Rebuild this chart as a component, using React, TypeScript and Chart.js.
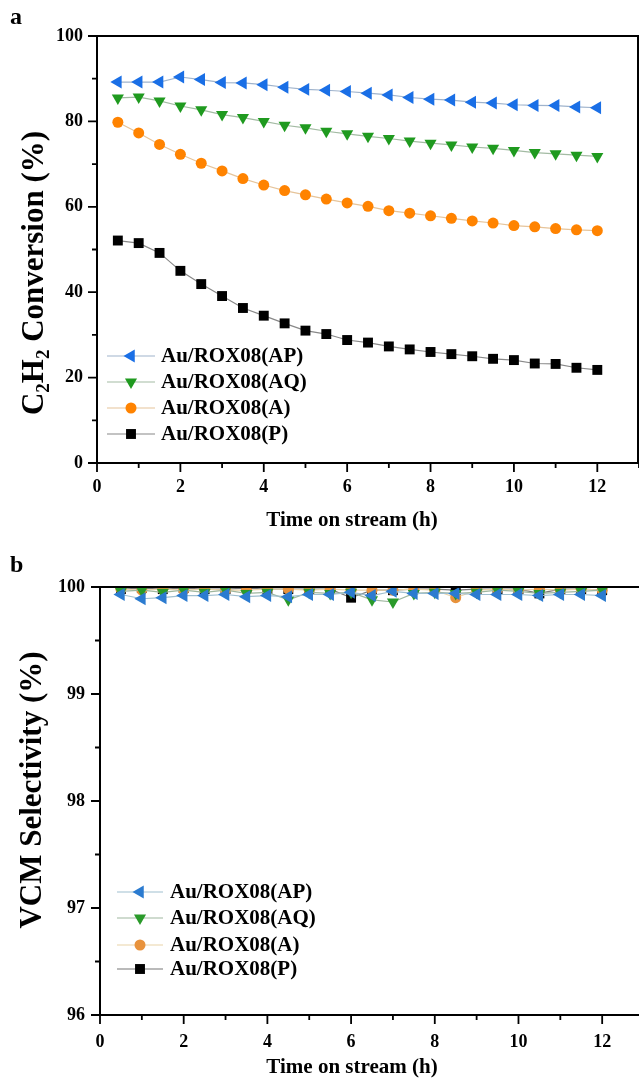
import React, { useEffect, useRef } from 'react';
import { Chart, registerables } from 'chart.js';

Chart.register(...registerables);

const FONT = "'Liberation Serif', 'Times New Roman', serif";

// ---- data ----
const hours = [0.5, 1, 1.5, 2, 2.5, 3, 3.5, 4, 4.5, 5, 5.5, 6, 6.5, 7, 7.5, 8, 8.5, 9, 9.5, 10, 10.5, 11, 11.5, 12];

const seriesLabels = ['Au/ROX08(AP)', 'Au/ROX08(AQ)', 'Au/ROX08(A)', 'Au/ROX08(P)'];

const convAP = [89.2, 89.2, 89.2, 90.4, 89.8, 89.1, 89.0, 88.6, 88.0, 87.5, 87.3, 87.0, 86.6, 86.2, 85.6, 85.2, 85.0, 84.5, 84.3, 83.9, 83.75, 83.7, 83.4, 83.2];
const convAQ = [85.5, 85.7, 84.8, 83.6, 82.7, 81.6, 80.9, 80.0, 79.1, 78.5, 77.7, 77.1, 76.5, 76.0, 75.4, 74.9, 74.5, 74.0, 73.7, 73.2, 72.7, 72.4, 72.1, 71.8];
const convA = [79.8, 77.3, 74.6, 72.3, 70.2, 68.4, 66.6, 65.1, 63.8, 62.8, 61.8, 60.9, 60.1, 59.1, 58.5, 57.9, 57.3, 56.7, 56.2, 55.6, 55.3, 54.9, 54.6, 54.4];
const convP = [52.1, 51.5, 49.2, 45.0, 41.9, 39.1, 36.3, 34.5, 32.7, 31.0, 30.2, 28.8, 28.2, 27.3, 26.6, 26.0, 25.5, 25.0, 24.4, 24.1, 23.3, 23.2, 22.3, 21.8];

const selAP = [99.93, 99.89, 99.9, 99.92, 99.92, 99.93, 99.91, 99.92, 99.91, 99.93, 99.93, 99.95, 99.92, 99.96, 99.94, 99.94, 99.94, 99.93, 99.93, 99.93, 99.92, 99.93, 99.93, 99.92];
const selAQ = [99.96, 99.97, 99.95, 99.97, 99.95, 99.97, 99.94, 99.95, 99.88, 99.95, 99.94, 99.95, 99.88, 99.86, 99.94, 99.95, 99.94, 99.95, 99.97, 99.96, 99.94, 99.95, 99.96, 99.97];
const selA = [99.98, 99.97, 99.98, 99.97, 99.98, 99.97, 99.97, 99.98, 99.98, 99.97, 99.98, 99.97, 99.97, 99.97, 99.98, 99.97, 99.9, 99.97, 99.98, 99.97, 99.98, 99.97, 99.98, 99.97];
const selP = [99.98, 99.99, 99.98, 99.99, 99.98, 99.98, 99.99, 99.98, 99.98, 99.98, 99.98, 99.9, 99.97, 99.97, 99.98, 99.98, 99.97, 99.98, 99.98, 99.98, 99.94, 99.98, 99.98, 99.97];

const xTickLabels = ['0', '2', '4', '6', '8', '10', '12'];
const yTickLabelsA = ['0', '20', '40', '60', '80', '100'];
const yTickLabelsB = ['96', '97', '98', '99', '100'];

// ---- styles ----
type Shape = 'triL' | 'triD' | 'circle' | 'rect';
const shapes: Shape[] = ['triL', 'triD', 'circle', 'rect'];
const fillsA = ['#1a6fe6', '#1f9a1f', '#ff8300', '#000000'];
const linesA = ['#9fb3cc', '#a3bba3', '#e6c49a', '#888888'];
const fillsB = ['#2b7bd0', '#2a9a2a', '#e8923c', '#000000'];
const linesB = ['#9fbfcf', '#9fb79f', '#ead3a8', '#777777'];
const radii = [7.5, 7, 5.5, 7];

function pointStyleOf(s: Shape): any {
  if (s === 'triL' || s === 'triD') return 'triangle';
  return s;
}
function rotationOf(s: Shape): number {
  if (s === 'triL') return -90;
  if (s === 'triD') return 180;
  return 0;
}

function drawMarker(ctx: CanvasRenderingContext2D, s: Shape, x: number, y: number, r: number, color: string) {
  ctx.save();
  ctx.fillStyle = color;
  ctx.beginPath();
  if (s === 'circle') {
    ctx.arc(x, y, r, 0, Math.PI * 2);
  } else if (s === 'rect') {
    const h = Math.SQRT1_2 * r;
    ctx.rect(x - h, y - h, 2 * h, 2 * h);
  } else {
    let a = (rotationOf(s) * Math.PI) / 180;
    for (let i = 0; i < 3; i++) {
      const px = x + Math.sin(a) * r;
      const py = y - Math.cos(a) * r;
      if (i === 0) ctx.moveTo(px, py);
      else ctx.lineTo(px, py);
      a += (2 * Math.PI) / 3;
    }
    ctx.closePath();
  }
  ctx.fill();
  ctx.restore();
}

type TitlePart = { t: string; sub?: boolean };

function makePlugin(o: {
  letter: string;
  letterPos: [number, number];
  yTitle: TitlePart[];
  yTitlePos: [number, number];
  xTitle: string;
  xTitlePos: [number, number];
  rightBorder: boolean;
  isMajorX: (v: number) => boolean;
  isMajorY: (v: number) => boolean;
  legend: { x1: number; x2: number; textX: number; rows: number[] };
  fills: string[];
  lines: string[];
}) {
  return {
    id: 'custom' + o.letter,
    afterDraw(chart: any) {
      const ctx: CanvasRenderingContext2D = chart.ctx;
      const { left, right, top, bottom } = chart.chartArea;
      const xs = chart.scales.x;
      const ys = chart.scales.y;
      ctx.save();
      // frame
      ctx.strokeStyle = '#000';
      ctx.lineWidth = 2;
      ctx.beginPath();
      ctx.moveTo(left, top);
      ctx.lineTo(left, bottom);
      ctx.lineTo(right, bottom);
      ctx.moveTo(left, top);
      ctx.lineTo(right, top);
      if (o.rightBorder) {
        ctx.moveTo(right - 1, top);
        ctx.lineTo(right - 1, bottom);
      }
      ctx.stroke();
      // ticks
      ctx.lineWidth = 1.8;
      ctx.beginPath();
      xs.ticks.forEach((t: any) => {
        const px = xs.getPixelForValue(t.value);
        const len = o.isMajorX(t.value) ? 9 : 5;
        ctx.moveTo(px, bottom);
        ctx.lineTo(px, bottom + len);
      });
      ys.ticks.forEach((t: any) => {
        const py = ys.getPixelForValue(t.value);
        const len = o.isMajorY(t.value) ? 9 : 5;
        ctx.moveTo(left, py);
        ctx.lineTo(left - len, py);
      });
      ctx.stroke();

      // panel letter
      ctx.fillStyle = '#000';
      ctx.font = `bold 24px ${FONT}`;
      ctx.textAlign = 'left';
      ctx.textBaseline = 'middle';
      ctx.fillText(o.letter, o.letterPos[0], o.letterPos[1]);

      // x title
      ctx.font = `bold 21px ${FONT}`;
      ctx.textAlign = 'center';
      ctx.textBaseline = 'middle';
      ctx.fillText(o.xTitle, o.xTitlePos[0], o.xTitlePos[1]);

      // y title with subscripts
      ctx.save();
      ctx.translate(o.yTitlePos[0], o.yTitlePos[1]);
      ctx.rotate(-Math.PI / 2);
      ctx.textAlign = 'left';
      ctx.textBaseline = 'middle';
      const mainF = `bold 31px ${FONT}`;
      const subF = `bold 19px ${FONT}`;
      let total = 0;
      o.yTitle.forEach((p) => {
        ctx.font = p.sub ? subF : mainF;
        total += ctx.measureText(p.t).width;
      });
      let cx = -total / 2;
      o.yTitle.forEach((p) => {
        ctx.font = p.sub ? subF : mainF;
        ctx.fillText(p.t, cx, p.sub ? 9 : 0);
        cx += ctx.measureText(p.t).width;
      });
      ctx.restore();

      // legend
      ctx.font = `bold 21px ${FONT}`;
      ctx.textAlign = 'left';
      ctx.textBaseline = 'middle';
      seriesLabels.forEach((lab, i) => {
        const y = o.legend.rows[i];
        ctx.strokeStyle = o.lines[i];
        ctx.lineWidth = 1.2;
        ctx.beginPath();
        ctx.moveTo(o.legend.x1, y);
        ctx.lineTo(o.legend.x2, y);
        ctx.stroke();
        drawMarker(ctx, shapes[i], (o.legend.x1 + o.legend.x2) / 2, y, radii[i], o.fills[i]);
        ctx.fillStyle = '#000';
        ctx.fillText(lab, o.legend.textX, y + 1);
      });
      ctx.restore();
    },
  };
}

function buildDatasets(series: number[][], fills: string[], lines: string[]) {
  return series.map((vals, i) => ({
    label: seriesLabels[i],
    data: hours.map((h, j) => ({ x: h, y: vals[j] })),
    borderColor: lines[i],
    borderWidth: 1.2,
    backgroundColor: fills[i],
    pointBackgroundColor: fills[i],
    pointBorderColor: fills[i],
    pointBorderWidth: 0,
    pointStyle: pointStyleOf(shapes[i]),
    rotation: rotationOf(shapes[i]),
    pointRotation: rotationOf(shapes[i]),
    pointRadius: radii[i],
    pointHoverRadius: radii[i],
    tension: 0,
    fill: false,
  }));
}

const tickFont = { family: FONT, size: 18, weight: 'bold' as const };

function fitX(h: number) {
  return (s: any) => {
    s.height = h;
    s.paddingLeft = 0;
    s.paddingRight = 0;
  };
}
function fitY(w: number) {
  return (s: any) => {
    s.width = w;
    s.paddingTop = 0;
    s.paddingBottom = 0;
  };
}

export default function App() {
  const refA = useRef<HTMLCanvasElement | null>(null);
  const refB = useRef<HTMLCanvasElement | null>(null);

  useEffect(() => {
    const charts: Chart[] = [];
    if (refA.current) {
      charts.push(
        new Chart(refA.current, {
          type: 'line',
          data: { datasets: buildDatasets([convAP, convAQ, convA, convP], fillsA, linesA) as any },
          options: {
            animation: false,
            responsive: false,
            devicePixelRatio: 1,
            layout: { autoPadding: false, padding: { left: 0, right: 0, top: 36, bottom: 0 } },
            plugins: { legend: { display: false }, tooltip: { enabled: false } },
            scales: {
              x: {
                type: 'linear',
                min: 0,
                max: 13,
                afterFit: fitX(82),
                grid: { display: false, drawTicks: false },
                border: { display: false },
                ticks: {
                  stepSize: 1,
                  autoSkip: false,
                  maxRotation: 0,
                  includeBounds: false,
                  padding: 14,
                  color: '#000',
                  font: tickFont,
                  callback: (v: any) => {
                    const s = String(v);
                    return xTickLabels.includes(s) ? s : '';
                  },
                },
              },
              y: {
                type: 'linear',
                min: 0,
                max: 100,
                afterFit: fitY(97),
                grid: { display: false, drawTicks: false },
                border: { display: false },
                ticks: {
                  stepSize: 10,
                  autoSkip: false,
                  padding: 14,
                  color: '#000',
                  font: tickFont,
                  callback: (v: any) => {
                    const s = String(v);
                    return yTickLabelsA.includes(s) ? s : '';
                  },
                },
              },
            },
          },
          plugins: [
            makePlugin({
              letter: 'a',
              letterPos: [10, 18],
              yTitle: [{ t: 'C' }, { t: '2', sub: true }, { t: 'H' }, { t: '2', sub: true }, { t: ' Conversion (%)' }],
              yTitlePos: [35, 273],
              xTitle: 'Time on stream (h)',
              xTitlePos: [352, 521],
              rightBorder: true,
              isMajorX: (v) => v % 2 === 0,
              isMajorY: (v) => v % 20 === 0,
              legend: { x1: 107, x2: 155, textX: 161, rows: [356, 382, 408, 434] },
              fills: fillsA,
              lines: linesA,
            }) as any,
          ],
        })
      );
    }
    if (refB.current) {
      charts.push(
        new Chart(refB.current, {
          type: 'line',
          data: { datasets: buildDatasets([selAP, selAQ, selA, selP], fillsB, linesB) as any },
          options: {
            animation: false,
            responsive: false,
            devicePixelRatio: 1,
            layout: { autoPadding: false, padding: { left: 0, right: 0, top: 42, bottom: 0 } },
            plugins: { legend: { display: false }, tooltip: { enabled: false } },
            scales: {
              x: {
                type: 'linear',
                min: 0,
                max: 12.88,
                afterFit: fitX(68),
                grid: { display: false, drawTicks: false },
                border: { display: false },
                ticks: {
                  stepSize: 1,
                  autoSkip: false,
                  maxRotation: 0,
                  includeBounds: false,
                  padding: 17,
                  color: '#000',
                  font: tickFont,
                  callback: (v: any) => {
                    const s = String(v);
                    return xTickLabels.includes(s) ? s : '';
                  },
                },
              },
              y: {
                type: 'linear',
                min: 96,
                max: 100,
                afterFit: fitY(100),
                grid: { display: false, drawTicks: false },
                border: { display: false },
                ticks: {
                  stepSize: 0.5,
                  autoSkip: false,
                  padding: 15,
                  color: '#000',
                  font: tickFont,
                  callback: (v: any) => {
                    const s = String(v);
                    return yTickLabelsB.includes(s) ? s : '';
                  },
                },
              },
            },
          },
          plugins: [
            makePlugin({
              letter: 'b',
              letterPos: [10, 21],
              yTitle: [{ t: 'VCM Selectivity (%)' }],
              yTitlePos: [33, 245],
              xTitle: 'Time on stream (h)',
              xTitlePos: [352, 523],
              rightBorder: false,
              isMajorX: (v) => v % 2 === 0,
              isMajorY: (v) => Math.abs(v - Math.round(v)) < 1e-6,
              legend: { x1: 117, x2: 163, textX: 170, rows: [347, 373, 400, 424] },
              fills: fillsB,
              lines: linesB,
            }) as any,
          ],
        })
      );
    }
    return () => charts.forEach((c) => c.destroy());
  }, []);

  return (
    <div style={{ position: 'absolute', left: 0, top: 0, width: 639, height: 1083, background: '#fff', overflow: 'hidden' }}>
      <canvas ref={refA} width={639} height={545} style={{ position: 'absolute', left: 0, top: 0, width: 639, height: 545 }} />
      <canvas ref={refB} width={639} height={538} style={{ position: 'absolute', left: 0, top: 545, width: 639, height: 538 }} />
    </div>
  );
}
